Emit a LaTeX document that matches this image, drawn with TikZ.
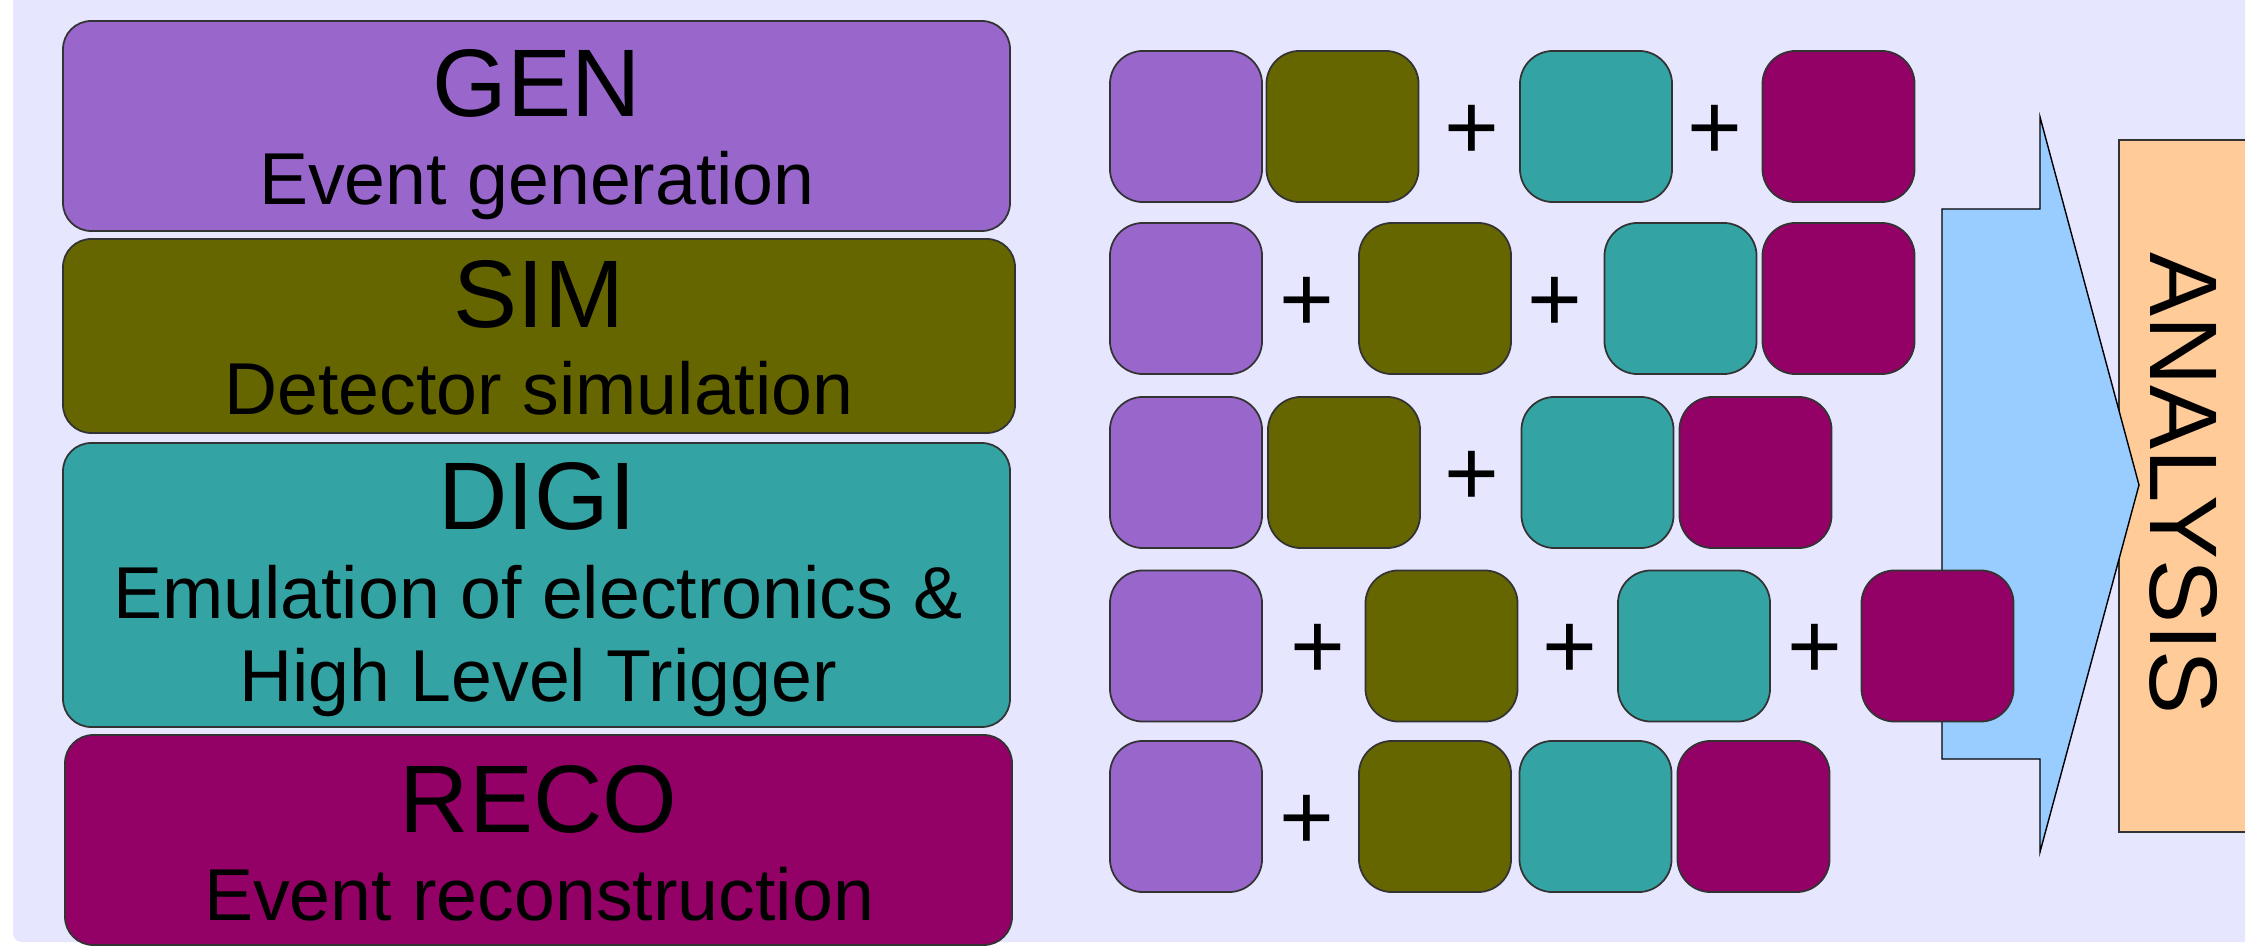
\documentclass[tikz,border=0pt]{standalone}
\usepackage{fontspec}
\setmainfont{Liberation Sans}
\definecolor{cbg}{HTML}{E6E6FF}
\definecolor{cpur}{HTML}{9966CC}
\definecolor{colive}{HTML}{666600}
\definecolor{cteal}{HTML}{33A3A3}
\definecolor{cmag}{HTML}{930066}
\definecolor{carrow}{HTML}{99CCFF}
\definecolor{cpeach}{HTML}{FFCC99}
\definecolor{cedge}{HTML}{333333}
\tikzset{
  bigbox/.style={draw=cedge, line width=0.5pt, rounded corners=8pt},
  sq/.style={draw=cedge, line width=0.5pt, rounded corners=9.4pt, minimum width=1.52cm, minimum height=1.51cm, inner sep=0pt},
  ttl/.style={anchor=base, inner sep=0pt, font=\fontsize{27.3}{30}\selectfont},
  sub/.style={anchor=base, inner sep=0pt, font=\fontsize{20.9}{24}\selectfont},
  plus/.style={anchor=base, inner sep=0pt, font=\fontsize{26.7}{30}\selectfont},
}
\begin{document}
\begin{tikzpicture}[x=0.01cm, y=-0.01cm]
\useasboundingbox (0,0) rectangle (2245,946);
\fill[cbg, rounded corners=2.5pt] (13,-20) rectangle (2265,942);
% left stage boxes
\draw[bigbox, fill=cpur] (63,21) rectangle (1010,231);
\draw[bigbox, fill=colive] (63,239) rectangle (1015,433);
\draw[bigbox, fill=cteal] (63,443) rectangle (1010,727);
\draw[bigbox, fill=cmag] (65,735) rectangle (1012,945);
\node[ttl] (gen) at (536.5,117) {GEN};
\node[sub] (gens) at (537,205) {Event generation};
\node[ttl] (sim) at (539,328) {SIM};
\node[sub] (sims) at (539,415) {Detector simulation};
\node[ttl] (digi) at (537,530) {DIGI};
\node[sub] (digis1) at (538,618) {Emulation of electronics \&};
\node[sub] (digis2) at (538,702) {High Level Trigger};
\node[ttl] (reco) at (538.5,832) {RECO};
\node[sub] (recos) at (539,920) {Event reconstruction};
% row 1
\node[sq, fill=cpur] (a1) at (1186,126.5) {};
\node[sq, fill=colive] (a2) at (1342.5,126.5) {};
\node[plus] (ap1) at (1472,159.5) {+};
\node[sq, fill=cteal] (a3) at (1596,126.5) {};
\node[plus] (ap2) at (1715,159.5) {+};
\node[sq, fill=cmag] (a4) at (1838.5,126.5) {};
% row 2
\node[sq, fill=cpur] (b1) at (1186,298.5) {};
\node[plus] (bp1) at (1307,331.5) {+};
\node[sq, fill=colive] (b2) at (1435,298.5) {};
\node[plus] (bp2) at (1555,331.5) {+};
\node[sq, fill=cteal] (b3) at (1680.5,298.5) {};
\node[sq, fill=cmag] (b4) at (1838.5,298.5) {};
% row 3
\node[sq, fill=cpur] (c1) at (1186,472.5) {};
\node[sq, fill=colive] (c2) at (1344,472.5) {};
\node[plus] (cp1) at (1472,505.5) {+};
\node[sq, fill=cteal] (c3) at (1597.5,472.5) {};
\node[sq, fill=cmag] (c4) at (1755.5,472.5) {};
% row 5
\node[sq, fill=cpur] (e1) at (1186,816.5) {};
\node[plus] (ep1) at (1307,849.5) {+};
\node[sq, fill=colive] (e2) at (1435,816.5) {};
\node[sq, fill=cteal] (e3) at (1595.5,816.5) {};
\node[sq, fill=cmag] (e4) at (1753.5,816.5) {};
% analysis box and arrow
\draw[draw=cedge, line width=0.5pt, fill=cpeach] (2119,140) rectangle (2265,832);
\draw[draw=black, line width=0.4pt, fill=carrow] (1942,209) -- (2040,209) -- (2040,117) -- (2139,485) -- (2040,852) -- (2040,759) -- (1942,759) -- cycle;
\node[anchor=base, inner sep=0pt, rotate=-90, font=\fontsize{27.3}{30}\selectfont] (ana) at (2150,483.5) {ANALYSIS};
% row 4 (last square overlaps arrow)
\node[sq, fill=cpur] (d1) at (1186,646) {};
\node[plus] (dp1) at (1318,679) {+};
\node[sq, fill=colive] (d2) at (1441.5,646) {};
\node[plus] (dp2) at (1570,679) {+};
\node[sq, fill=cteal] (d3) at (1694,646) {};
\node[plus] (dp3) at (1815,679) {+};
\node[sq, fill=cmag] (d4) at (1937.5,646) {};
\end{tikzpicture}
\end{document}
